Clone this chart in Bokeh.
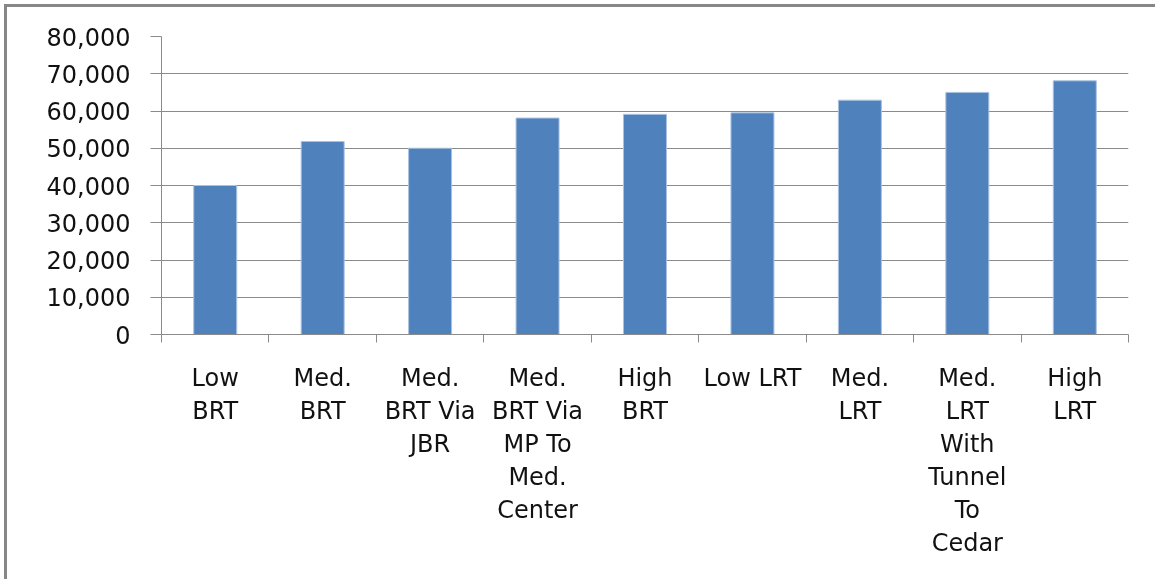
from bokeh.plotting import figure
from bokeh.models import Range1d, FixedTicker, NumeralTickFormatter
from bokeh.embed import file_html
from bokeh.resources import INLINE

categories = ["Low BRT", "Med. BRT", "Med. BRT Via JBR", "Med. BRT Via MP To Med. Center",
              "High BRT", "Low LRT", "Med. LRT", "Med. LRT With Tunnel To Cedar", "High LRT"]
tick_labels = ["Low\nBRT", "Med.\nBRT", "Med.\nBRT Via\nJBR", "Med.\nBRT Via\nMP To\nMed.\nCenter",
               "High\nBRT", "Low LRT", "Med.\nLRT", "Med.\nLRT\nWith\nTunnel\nTo\nCedar", "High\nLRT"]
ridership = [40000, 51800, 50000, 58100, 59100, 59500, 62900, 65000, 68100]
y_ticks = [0, 10000, 20000, 30000, 40000, 50000, 60000, 70000, 80000]

n = len(categories)
centers = [i + 0.5 for i in range(n)]
bounds = list(range(n + 1))

OFF = 7
W, H = 1155 - OFF + 30, 579 - OFF + 30   # chart box runs past the window edges
p = figure(width=W, height=H, output_backend="svg", toolbar_location=None,
           x_range=Range1d(0, n), y_range=Range1d(0, 80000),
           min_border_left=161 - OFF, min_border_right=W - (1128 - OFF),
           min_border_top=36 - OFF, min_border_bottom=H - (334 - OFF))
p.styles = {"position": "fixed", "left": "4px", "top": "4px",
            "border-left": "3px solid #878787", "border-top": "3px solid #878787"}
p.outline_line_color = None
p.background_fill_color = "white"
p.border_fill_color = "white"

p.vbar(x=centers, top=ridership, width=0.4, bottom=0,
       fill_color="#4F81BD", line_color="#A9C2E0", line_width=1)

grid_color = "#8a8a8a"
font = "DejaVu Sans"

# y axis
ya = p.yaxis[0]
ya.ticker = FixedTicker(ticks=y_ticks)
ya.formatter = NumeralTickFormatter(format="0,0")
ya.axis_line_color = grid_color
ya.major_tick_line_color = grid_color
ya.major_tick_out = 11
ya.major_tick_in = 0
ya.minor_tick_line_color = None
ya.major_label_standoff = 20
ya.major_label_text_font = font
ya.major_label_text_font_size = "24px"
ya.major_label_text_color = "#111111"

# x axis
xa = p.xaxis[0]
xa.ticker = FixedTicker(ticks=centers, minor_ticks=bounds)
xa.major_label_overrides = {c: lab for c, lab in zip(centers, tick_labels)}
xa.axis_line_color = grid_color
xa.major_tick_line_color = None
xa.major_tick_out = 0
xa.major_tick_in = 0
xa.minor_tick_line_color = grid_color
xa.minor_tick_out = 8
xa.minor_tick_in = 0
xa.major_label_standoff = 21
xa.major_label_text_font = font
xa.major_label_text_font_size = "24px"
xa.major_label_text_color = "#111111"
xa.major_label_text_line_height = 1.18

p.xgrid.grid_line_color = None
p.ygrid.grid_line_color = grid_color
p.ygrid.grid_line_width = 1

open("out.html", "w").write(file_html(p, INLINE))
